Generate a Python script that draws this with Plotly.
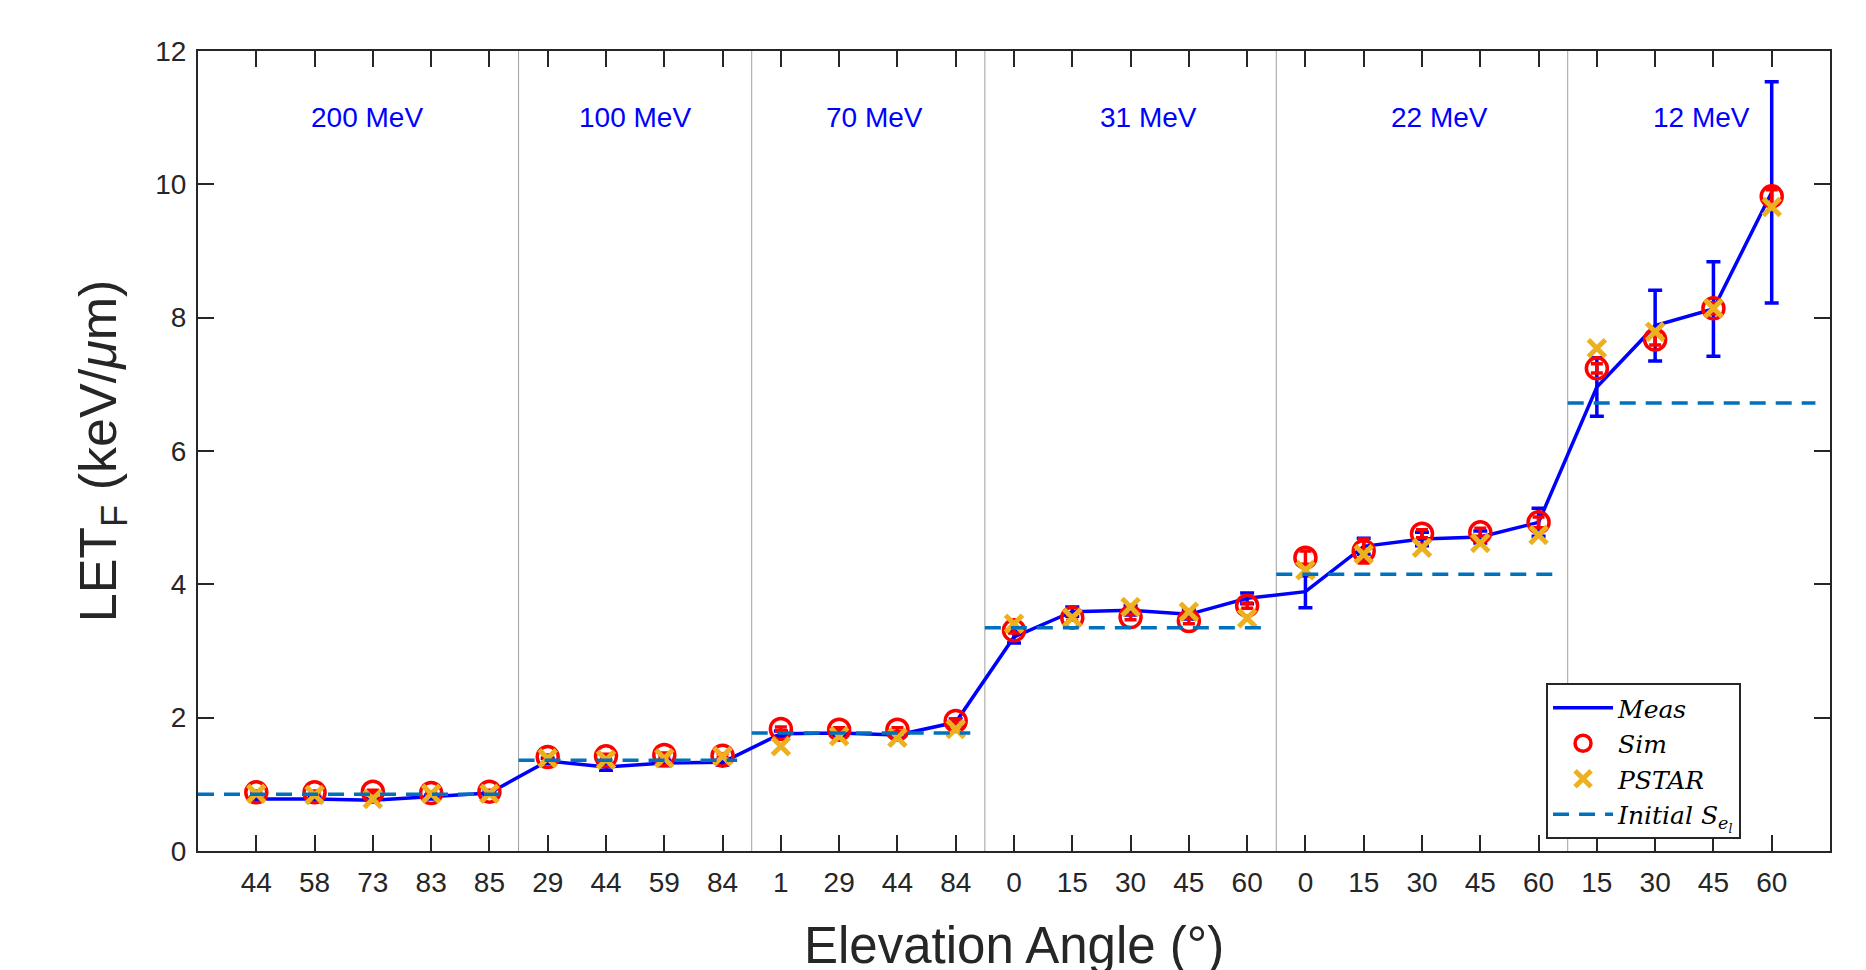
import plotly.graph_objects as go

# ---------------- data ----------------
energies = ["200 MeV", "100 MeV", "70 MeV", "31 MeV", "22 MeV", "12 MeV"]
angles_200 = [44, 58, 73, 83, 85]
angles_100 = [29, 44, 59, 84]
angles_70 = [1, 29, 44, 84]
angles_31 = [0, 15, 30, 45, 60]
angles_22 = [0, 15, 30, 45, 60]
angles_12 = [15, 30, 45, 60]
angle_groups = [angles_200, angles_100, angles_70, angles_31, angles_22, angles_12]

meas = [0.78, 0.78, 0.76, 0.81, 0.87,
        1.35, 1.26, 1.32, 1.33,
        1.76, 1.77, 1.74, 1.93,
        3.21, 3.59, 3.61, 3.55, 3.79,
        3.89, 4.57, 4.68, 4.71, 4.93,
        6.96, 7.88, 8.13, 9.88]
meas_err = [0.03, 0.03, 0.03, 0.03, 0.03,
            0.04, 0.05, 0.04, 0.04,
            0.04, 0.04, 0.04, 0.05,
            0.09, 0.07, 0.07, 0.07, 0.08,
            0.24, 0.12, 0.10, 0.09, 0.21,
            0.44, 0.53, 0.71, 1.66]
sim = [0.88, 0.88, 0.89, 0.87, 0.89,
       1.41, 1.42, 1.44, 1.43,
       1.83, 1.82, 1.82, 1.95,
       3.31, 3.50, 3.51, 3.45, 3.68,
       4.40, 4.50, 4.76, 4.78, 4.93,
       7.24, 7.67, 8.14, 9.82]
sim_err = [0.02, 0.02, 0.02, 0.02, 0.02,
           0.03, 0.03, 0.03, 0.03,
           0.03, 0.03, 0.03, 0.03,
           0.04, 0.04, 0.04, 0.04, 0.04,
           0.10, 0.18, 0.06, 0.06, 0.08,
           0.07, 0.08, 0.08, 0.10]
pstar = [0.86, 0.84, 0.78, 0.86, 0.86,
         1.39, 1.37, 1.39, 1.42,
         1.57, 1.72, 1.70, 1.83,
         3.41, 3.50, 3.66, 3.59, 3.49,
         4.21, 4.45, 4.55, 4.62, 4.74,
         7.54, 7.79, 8.14, 9.66]
initial_sel = [0.85, 1.36, 1.77, 3.35, 4.15, 6.72]
# extent (in category units) of each Initial S_el segment
sel_start = [0.0, 5.5, 9.5, 13.5, 18.5, 23.5]
sel_end = [5.25, 9.25, 13.25, 18.25, 23.25, 27.75]

# ---------------- derived ----------------
tick_text = [str(a) for g in angle_groups for a in g]
xpos = list(range(1, len(tick_text) + 1))
n_total = len(xpos)

dividers = []
label_x = []
cum = 0
for g in angle_groups:
    first = cum + 1
    cum += len(g)
    label_x.append((first + cum) / 2)
    if cum < n_total:
        dividers.append(cum + 0.5)
label_shift = [-0.1, 0.0, 0.1, 0.3, 0.3, 0.3]

sel_x, sel_y = [], []
for x0, x1, v in zip(sel_start, sel_end, initial_sel):
    sel_x += [x0, x1, None]
    sel_y += [v, v, None]

AX = "#262626"
SANS = "Liberation Sans, Arial, sans-serif"
SERIF = "DejaVu Serif, Liberation Serif, serif"

fig = go.Figure()
fig.add_trace(go.Scatter(
    x=xpos, y=meas, mode="lines", name="<i>Meas</i>",
    line=dict(color="#0000FF", width=3.5),
    error_y=dict(type="data", array=meas_err, color="#0000FF", thickness=3.5, width=7),
))
fig.add_trace(go.Scatter(
    x=xpos, y=sim, mode="markers", name="<i>Sim</i>",
    marker=dict(symbol="circle-open", size=21, color="#FF0000", line=dict(width=3.5, color="#FF0000")),
    error_y=dict(type="data", array=sim_err, color="#FF0000", thickness=3.5, width=6),
))
fig.add_trace(go.Scatter(
    x=xpos, y=pstar, mode="markers", name="<i>PSTAR</i>",
    marker=dict(symbol="x-thin", size=17, color="#EDB120", line=dict(width=5, color="#EDB120")),
))
fig.add_trace(go.Scatter(
    x=sel_x, y=sel_y, mode="lines", name="<i>Initial S<sub>e<sub>l</sub></sub></i>",
    line=dict(color="#0072BD", width=3.5, dash="16px,10px"),
    connectgaps=False,
))

shapes = [dict(type="line", xref="x", yref="paper", x0=d, x1=d, y0=0, y1=1,
               line=dict(color="#A0A0A0", width=1), layer="below") for d in dividers]

annotations = [dict(x=lx + s, y=11, xref="x", yref="y", text=e, showarrow=False,
                    font=dict(family=SANS, size=28, color="#0000FF"))
               for lx, s, e in zip(label_x, label_shift, energies)]
# x-axis title (placed as an annotation so it may run to the page edge)
annotations.append(dict(x=0.5, y=0, xref="paper", yref="paper", text="Elevation Angle (°)",
                        showarrow=False, yanchor="middle", yshift=-94,
                        font=dict(family=SANS, size=51, color=AX)))

axis_common = dict(
    showline=True, linewidth=2, linecolor=AX, mirror="ticks",
    ticks="inside", ticklen=16, tickwidth=2, tickcolor=AX,
    showgrid=False, zeroline=False, automargin=False,
    tickfont=dict(family=SANS, size=28, color=AX),
)

fig.update_layout(
    width=1866, height=970,
    margin=dict(l=198, r=36, t=51, b=119),
    paper_bgcolor="white", plot_bgcolor="white",
    xaxis=dict(range=[0, n_total + 1], tickvals=xpos, ticktext=tick_text,
               ticklabelstandoff=5, **axis_common),
    yaxis=dict(range=[0, 12], dtick=2, ticklabelstandoff=4,
               title=dict(text="LET<sub>F</sub> (keV/<i>μ</i>m)", font=dict(family=SANS, size=52, color=AX), standoff=22),
               **axis_common),
    shapes=shapes,
    annotations=annotations,
    legend=dict(x=0.826, y=0.015, xanchor="left", yanchor="bottom",
                bgcolor="white", bordercolor=AX, borderwidth=2,
                font=dict(family=SERIF, size=25, color="black"),
                itemwidth=60, entrywidth=150, tracegroupgap=0),
    showlegend=True,
)

fig.write_html("out.html", config={"displayModeBar": False},
               post_script="document.body.style.margin='0';")
